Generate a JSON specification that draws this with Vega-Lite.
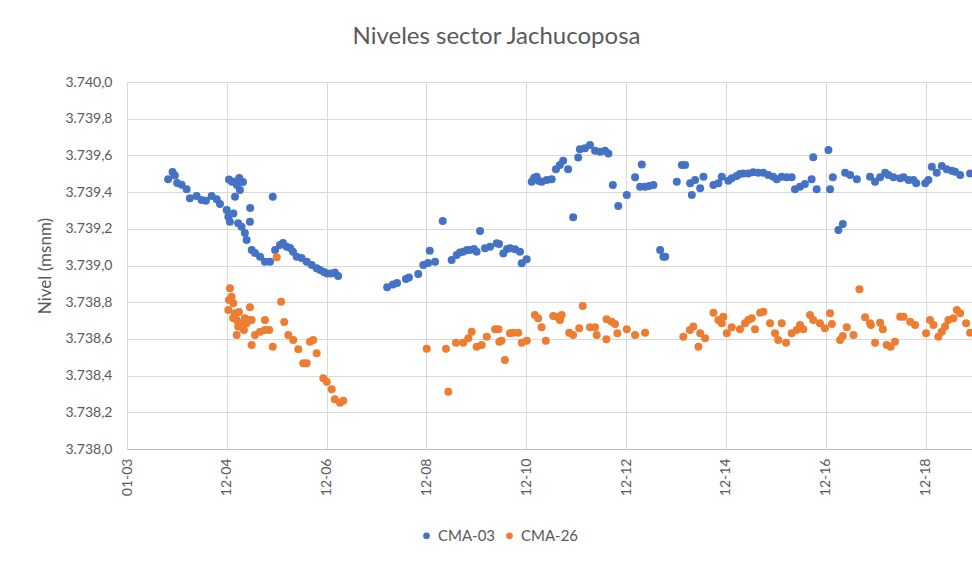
{
  "$schema": "https://vega.github.io/schema/vega-lite/v6.json",
  "width": 845,
  "height": 367,
  "autosize": {"type": "none"},
  "padding": {"left": 127, "top": 82, "right": 0, "bottom": 113},
  "background": "white",
  "title": {
    "text": "Niveles sector Jachucoposa",
    "fontSize": 24,
    "font": "Lato",
    "fontWeight": "normal",
    "color": "#595959",
    "anchor": "middle",
    "frame": "group",
    "dx": -53,
    "offset": 26
  },
  "config": {
    "view": {"stroke": null},
    "font": "Lato"
  },
  "data": {
    "values": [
      {"fecha": "2003-10-29", "nivel": 3739.47, "pozo": "CMA-03"},
      {"fecha": "2003-11-30", "nivel": 3739.51, "pozo": "CMA-03"},
      {"fecha": "2003-12-17", "nivel": 3739.49, "pozo": "CMA-03"},
      {"fecha": "2004-01-03", "nivel": 3739.45, "pozo": "CMA-03"},
      {"fecha": "2004-02-04", "nivel": 3739.44, "pozo": "CMA-03"},
      {"fecha": "2004-03-12", "nivel": 3739.415, "pozo": "CMA-03"},
      {"fecha": "2004-04-05", "nivel": 3739.366, "pozo": "CMA-03"},
      {"fecha": "2004-05-24", "nivel": 3739.379, "pozo": "CMA-03"},
      {"fecha": "2004-06-30", "nivel": 3739.357, "pozo": "CMA-03"},
      {"fecha": "2004-07-31", "nivel": 3739.353, "pozo": "CMA-03"},
      {"fecha": "2004-09-11", "nivel": 3739.379, "pozo": "CMA-03"},
      {"fecha": "2004-10-18", "nivel": 3739.361, "pozo": "CMA-03"},
      {"fecha": "2004-11-11", "nivel": 3739.335, "pozo": "CMA-03"},
      {"fecha": "2004-12-30", "nivel": 3739.302, "pozo": "CMA-03"},
      {"fecha": "2005-01-11", "nivel": 3739.266, "pozo": "CMA-03"},
      {"fecha": "2005-01-23", "nivel": 3739.239, "pozo": "CMA-03"},
      {"fecha": "2005-02-17", "nivel": 3739.284, "pozo": "CMA-03"},
      {"fecha": "2005-02-07", "nivel": 3739.457, "pozo": "CMA-03"},
      {"fecha": "2005-03-01", "nivel": 3739.457, "pozo": "CMA-03"},
      {"fecha": "2005-03-15", "nivel": 3739.439, "pozo": "CMA-03"},
      {"fecha": "2005-04-06", "nivel": 3739.411, "pozo": "CMA-03"},
      {"fecha": "2005-03-01", "nivel": 3739.375, "pozo": "CMA-03"},
      {"fecha": "2005-01-16", "nivel": 3739.468, "pozo": "CMA-03"},
      {"fecha": "2005-04-28", "nivel": 3739.455, "pozo": "CMA-03"},
      {"fecha": "2005-04-01", "nivel": 3739.477, "pozo": "CMA-03"},
      {"fecha": "2005-03-24", "nivel": 3739.23, "pozo": "CMA-03"},
      {"fecha": "2005-04-18", "nivel": 3739.211, "pozo": "CMA-03"},
      {"fecha": "2005-05-12", "nivel": 3739.177, "pozo": "CMA-03"},
      {"fecha": "2005-05-25", "nivel": 3739.139, "pozo": "CMA-03"},
      {"fecha": "2005-06-18", "nivel": 3739.239, "pozo": "CMA-03"},
      {"fecha": "2005-06-20", "nivel": 3739.313, "pozo": "CMA-03"},
      {"fecha": "2005-07-01", "nivel": 3739.084, "pozo": "CMA-03"},
      {"fecha": "2005-07-25", "nivel": 3739.068, "pozo": "CMA-03"},
      {"fecha": "2005-08-31", "nivel": 3739.048, "pozo": "CMA-03"},
      {"fecha": "2005-10-06", "nivel": 3739.021, "pozo": "CMA-03"},
      {"fecha": "2005-11-12", "nivel": 3739.021, "pozo": "CMA-03"},
      {"fecha": "2005-12-02", "nivel": 3739.375, "pozo": "CMA-03"},
      {"fecha": "2005-12-19", "nivel": 3739.084, "pozo": "CMA-03"},
      {"fecha": "2006-01-24", "nivel": 3739.112, "pozo": "CMA-03"},
      {"fecha": "2006-02-15", "nivel": 3739.123, "pozo": "CMA-03"},
      {"fecha": "2006-03-14", "nivel": 3739.102, "pozo": "CMA-03"},
      {"fecha": "2006-04-08", "nivel": 3739.095, "pozo": "CMA-03"},
      {"fecha": "2006-04-29", "nivel": 3739.075, "pozo": "CMA-03"},
      {"fecha": "2006-05-26", "nivel": 3739.048, "pozo": "CMA-03"},
      {"fecha": "2006-07-01", "nivel": 3739.041, "pozo": "CMA-03"},
      {"fecha": "2006-08-07", "nivel": 3739.021, "pozo": "CMA-03"},
      {"fecha": "2006-09-13", "nivel": 3739.003, "pozo": "CMA-03"},
      {"fecha": "2006-10-19", "nivel": 3738.985, "pozo": "CMA-03"},
      {"fecha": "2006-11-13", "nivel": 3738.975, "pozo": "CMA-03"},
      {"fecha": "2006-12-12", "nivel": 3738.965, "pozo": "CMA-03"},
      {"fecha": "2007-01-03", "nivel": 3738.956, "pozo": "CMA-03"},
      {"fecha": "2007-02-01", "nivel": 3738.956, "pozo": "CMA-03"},
      {"fecha": "2007-03-01", "nivel": 3738.962, "pozo": "CMA-03"},
      {"fecha": "2007-03-25", "nivel": 3738.943, "pozo": "CMA-03"},
      {"fecha": "2008-03-18", "nivel": 3738.881, "pozo": "CMA-03"},
      {"fecha": "2008-04-29", "nivel": 3738.896, "pozo": "CMA-03"},
      {"fecha": "2008-05-29", "nivel": 3738.905, "pozo": "CMA-03"},
      {"fecha": "2008-08-02", "nivel": 3738.926, "pozo": "CMA-03"},
      {"fecha": "2008-08-24", "nivel": 3738.935, "pozo": "CMA-03"},
      {"fecha": "2008-10-31", "nivel": 3738.954, "pozo": "CMA-03"},
      {"fecha": "2008-12-07", "nivel": 3739.003, "pozo": "CMA-03"},
      {"fecha": "2009-01-11", "nivel": 3739.014, "pozo": "CMA-03"},
      {"fecha": "2009-01-23", "nivel": 3739.081, "pozo": "CMA-03"},
      {"fecha": "2009-03-03", "nivel": 3739.021, "pozo": "CMA-03"},
      {"fecha": "2009-04-28", "nivel": 3739.243, "pozo": "CMA-03"},
      {"fecha": "2009-07-02", "nivel": 3739.03, "pozo": "CMA-03"},
      {"fecha": "2009-08-08", "nivel": 3739.057, "pozo": "CMA-03"},
      {"fecha": "2009-09-01", "nivel": 3739.071, "pozo": "CMA-03"},
      {"fecha": "2009-09-25", "nivel": 3739.075, "pozo": "CMA-03"},
      {"fecha": "2009-10-23", "nivel": 3739.084, "pozo": "CMA-03"},
      {"fecha": "2009-11-13", "nivel": 3739.084, "pozo": "CMA-03"},
      {"fecha": "2009-12-12", "nivel": 3739.09, "pozo": "CMA-03"},
      {"fecha": "2010-01-01", "nivel": 3739.075, "pozo": "CMA-03"},
      {"fecha": "2010-01-26", "nivel": 3739.188, "pozo": "CMA-03"},
      {"fecha": "2010-03-03", "nivel": 3739.094, "pozo": "CMA-03"},
      {"fecha": "2010-04-09", "nivel": 3739.102, "pozo": "CMA-03"},
      {"fecha": "2010-05-28", "nivel": 3739.121, "pozo": "CMA-03"},
      {"fecha": "2010-06-14", "nivel": 3739.117, "pozo": "CMA-03"},
      {"fecha": "2010-07-15", "nivel": 3739.066, "pozo": "CMA-03"},
      {"fecha": "2010-08-11", "nivel": 3739.09, "pozo": "CMA-03"},
      {"fecha": "2010-09-02", "nivel": 3739.094, "pozo": "CMA-03"},
      {"fecha": "2010-10-09", "nivel": 3739.088, "pozo": "CMA-03"},
      {"fecha": "2010-11-14", "nivel": 3739.075, "pozo": "CMA-03"},
      {"fecha": "2010-11-27", "nivel": 3739.012, "pozo": "CMA-03"},
      {"fecha": "2011-01-02", "nivel": 3739.034, "pozo": "CMA-03"},
      {"fecha": "2011-02-08", "nivel": 3739.457, "pozo": "CMA-03"},
      {"fecha": "2011-02-25", "nivel": 3739.477, "pozo": "CMA-03"},
      {"fecha": "2011-03-16", "nivel": 3739.484, "pozo": "CMA-03"},
      {"fecha": "2011-04-02", "nivel": 3739.46, "pozo": "CMA-03"},
      {"fecha": "2011-04-22", "nivel": 3739.457, "pozo": "CMA-03"},
      {"fecha": "2011-05-28", "nivel": 3739.466, "pozo": "CMA-03"},
      {"fecha": "2011-07-04", "nivel": 3739.47, "pozo": "CMA-03"},
      {"fecha": "2011-08-04", "nivel": 3739.524, "pozo": "CMA-03"},
      {"fecha": "2011-09-02", "nivel": 3739.548, "pozo": "CMA-03"},
      {"fecha": "2011-09-26", "nivel": 3739.571, "pozo": "CMA-03"},
      {"fecha": "2011-11-01", "nivel": 3739.524, "pozo": "CMA-03"},
      {"fecha": "2011-12-08", "nivel": 3739.263, "pozo": "CMA-03"},
      {"fecha": "2012-01-14", "nivel": 3739.589, "pozo": "CMA-03"},
      {"fecha": "2012-01-26", "nivel": 3739.633, "pozo": "CMA-03"},
      {"fecha": "2012-03-03", "nivel": 3739.639, "pozo": "CMA-03"},
      {"fecha": "2012-04-09", "nivel": 3739.657, "pozo": "CMA-03"},
      {"fecha": "2012-05-16", "nivel": 3739.626, "pozo": "CMA-03"},
      {"fecha": "2012-06-22", "nivel": 3739.62, "pozo": "CMA-03"},
      {"fecha": "2012-07-28", "nivel": 3739.626, "pozo": "CMA-03"},
      {"fecha": "2012-08-22", "nivel": 3739.611, "pozo": "CMA-03"},
      {"fecha": "2012-09-23", "nivel": 3739.439, "pozo": "CMA-03"},
      {"fecha": "2012-11-02", "nivel": 3739.324, "pozo": "CMA-03"},
      {"fecha": "2013-01-03", "nivel": 3739.384, "pozo": "CMA-03"},
      {"fecha": "2013-03-05", "nivel": 3739.481, "pozo": "CMA-03"},
      {"fecha": "2013-04-23", "nivel": 3739.551, "pozo": "CMA-03"},
      {"fecha": "2013-04-11", "nivel": 3739.429, "pozo": "CMA-03"},
      {"fecha": "2013-05-17", "nivel": 3739.429, "pozo": "CMA-03"},
      {"fecha": "2013-06-15", "nivel": 3739.433, "pozo": "CMA-03"},
      {"fecha": "2013-07-17", "nivel": 3739.439, "pozo": "CMA-03"},
      {"fecha": "2013-09-04", "nivel": 3739.084, "pozo": "CMA-03"},
      {"fecha": "2013-09-28", "nivel": 3739.048, "pozo": "CMA-03"},
      {"fecha": "2013-10-11", "nivel": 3739.048, "pozo": "CMA-03"},
      {"fecha": "2014-01-04", "nivel": 3739.457, "pozo": "CMA-03"},
      {"fecha": "2014-02-10", "nivel": 3739.548, "pozo": "CMA-03"},
      {"fecha": "2014-03-06", "nivel": 3739.548, "pozo": "CMA-03"},
      {"fecha": "2014-04-12", "nivel": 3739.448, "pozo": "CMA-03"},
      {"fecha": "2014-04-24", "nivel": 3739.384, "pozo": "CMA-03"},
      {"fecha": "2014-05-18", "nivel": 3739.466, "pozo": "CMA-03"},
      {"fecha": "2014-06-24", "nivel": 3739.421, "pozo": "CMA-03"},
      {"fecha": "2014-07-18", "nivel": 3739.484, "pozo": "CMA-03"},
      {"fecha": "2014-09-29", "nivel": 3739.439, "pozo": "CMA-03"},
      {"fecha": "2014-11-04", "nivel": 3739.448, "pozo": "CMA-03"},
      {"fecha": "2014-11-29", "nivel": 3739.484, "pozo": "CMA-03"},
      {"fecha": "2015-01-16", "nivel": 3739.462, "pozo": "CMA-03"},
      {"fecha": "2015-02-10", "nivel": 3739.475, "pozo": "CMA-03"},
      {"fecha": "2015-03-18", "nivel": 3739.488, "pozo": "CMA-03"},
      {"fecha": "2015-04-11", "nivel": 3739.499, "pozo": "CMA-03"},
      {"fecha": "2015-05-05", "nivel": 3739.502, "pozo": "CMA-03"},
      {"fecha": "2015-06-11", "nivel": 3739.502, "pozo": "CMA-03"},
      {"fecha": "2015-07-17", "nivel": 3739.508, "pozo": "CMA-03"},
      {"fecha": "2015-08-23", "nivel": 3739.506, "pozo": "CMA-03"},
      {"fecha": "2015-09-29", "nivel": 3739.506, "pozo": "CMA-03"},
      {"fecha": "2015-11-04", "nivel": 3739.493, "pozo": "CMA-03"},
      {"fecha": "2015-12-10", "nivel": 3739.484, "pozo": "CMA-03"},
      {"fecha": "2016-01-05", "nivel": 3739.47, "pozo": "CMA-03"},
      {"fecha": "2016-02-10", "nivel": 3739.484, "pozo": "CMA-03"},
      {"fecha": "2016-03-17", "nivel": 3739.481, "pozo": "CMA-03"},
      {"fecha": "2016-04-23", "nivel": 3739.481, "pozo": "CMA-03"},
      {"fecha": "2016-05-17", "nivel": 3739.415, "pozo": "CMA-03"},
      {"fecha": "2016-06-23", "nivel": 3739.429, "pozo": "CMA-03"},
      {"fecha": "2016-07-29", "nivel": 3739.444, "pozo": "CMA-03"},
      {"fecha": "2016-09-16", "nivel": 3739.47, "pozo": "CMA-03"},
      {"fecha": "2016-09-28", "nivel": 3739.59, "pozo": "CMA-03"},
      {"fecha": "2016-10-23", "nivel": 3739.415, "pozo": "CMA-03"},
      {"fecha": "2017-01-17", "nivel": 3739.629, "pozo": "CMA-03"},
      {"fecha": "2017-01-29", "nivel": 3739.415, "pozo": "CMA-03"},
      {"fecha": "2017-02-18", "nivel": 3739.481, "pozo": "CMA-03"},
      {"fecha": "2017-03-31", "nivel": 3739.193, "pozo": "CMA-03"},
      {"fecha": "2017-05-02", "nivel": 3739.226, "pozo": "CMA-03"},
      {"fecha": "2017-05-19", "nivel": 3739.506, "pozo": "CMA-03"},
      {"fecha": "2017-06-25", "nivel": 3739.493, "pozo": "CMA-03"},
      {"fecha": "2017-08-13", "nivel": 3739.47, "pozo": "CMA-03"},
      {"fecha": "2017-11-17", "nivel": 3739.484, "pozo": "CMA-03"},
      {"fecha": "2017-12-24", "nivel": 3739.457, "pozo": "CMA-03"},
      {"fecha": "2018-01-30", "nivel": 3739.481, "pozo": "CMA-03"},
      {"fecha": "2018-03-08", "nivel": 3739.506, "pozo": "CMA-03"},
      {"fecha": "2018-04-01", "nivel": 3739.493, "pozo": "CMA-03"},
      {"fecha": "2018-05-08", "nivel": 3739.481, "pozo": "CMA-03"},
      {"fecha": "2018-06-26", "nivel": 3739.475, "pozo": "CMA-03"},
      {"fecha": "2018-07-20", "nivel": 3739.481, "pozo": "CMA-03"},
      {"fecha": "2018-08-26", "nivel": 3739.466, "pozo": "CMA-03"},
      {"fecha": "2018-10-01", "nivel": 3739.466, "pozo": "CMA-03"},
      {"fecha": "2018-10-21", "nivel": 3739.448, "pozo": "CMA-03"},
      {"fecha": "2018-12-26", "nivel": 3739.448, "pozo": "CMA-03"},
      {"fecha": "2019-01-18", "nivel": 3739.466, "pozo": "CMA-03"},
      {"fecha": "2019-02-12", "nivel": 3739.538, "pozo": "CMA-03"},
      {"fecha": "2019-03-20", "nivel": 3739.506, "pozo": "CMA-03"},
      {"fecha": "2019-04-26", "nivel": 3739.542, "pozo": "CMA-03"},
      {"fecha": "2019-06-01", "nivel": 3739.524, "pozo": "CMA-03"},
      {"fecha": "2019-07-08", "nivel": 3739.517, "pozo": "CMA-03"},
      {"fecha": "2019-08-01", "nivel": 3739.511, "pozo": "CMA-03"},
      {"fecha": "2019-09-07", "nivel": 3739.493, "pozo": "CMA-03"},
      {"fecha": "2019-11-19", "nivel": 3739.502, "pozo": "CMA-03"},

      {"fecha": "2005-01-23", "nivel": 3738.876, "pozo": "CMA-26"},
      {"fecha": "2005-02-04", "nivel": 3738.83, "pozo": "CMA-26"},
      {"fecha": "2005-02-16", "nivel": 3738.794, "pozo": "CMA-26"},
      {"fecha": "2005-01-11", "nivel": 3738.757, "pozo": "CMA-26"},
      {"fecha": "2005-03-01", "nivel": 3738.74, "pozo": "CMA-26"},
      {"fecha": "2005-03-13", "nivel": 3738.703, "pozo": "CMA-26"},
      {"fecha": "2005-03-24", "nivel": 3738.667, "pozo": "CMA-26"},
      {"fecha": "2005-03-13", "nivel": 3738.621, "pozo": "CMA-26"},
      {"fecha": "2005-04-18", "nivel": 3738.685, "pozo": "CMA-26"},
      {"fecha": "2005-05-12", "nivel": 3738.712, "pozo": "CMA-26"},
      {"fecha": "2005-05-25", "nivel": 3738.685, "pozo": "CMA-26"},
      {"fecha": "2005-07-01", "nivel": 3738.703, "pozo": "CMA-26"},
      {"fecha": "2005-01-16", "nivel": 3738.812, "pozo": "CMA-26"},
      {"fecha": "2005-02-15", "nivel": 3738.714, "pozo": "CMA-26"},
      {"fecha": "2005-03-30", "nivel": 3738.747, "pozo": "CMA-26"},
      {"fecha": "2005-05-05", "nivel": 3738.649, "pozo": "CMA-26"},
      {"fecha": "2005-06-01", "nivel": 3738.703, "pozo": "CMA-26"},
      {"fecha": "2005-06-18", "nivel": 3738.772, "pozo": "CMA-26"},
      {"fecha": "2005-07-01", "nivel": 3738.567, "pozo": "CMA-26"},
      {"fecha": "2005-07-25", "nivel": 3738.621, "pozo": "CMA-26"},
      {"fecha": "2005-08-31", "nivel": 3738.639, "pozo": "CMA-26"},
      {"fecha": "2005-10-06", "nivel": 3738.649, "pozo": "CMA-26"},
      {"fecha": "2005-11-06", "nivel": 3738.649, "pozo": "CMA-26"},
      {"fecha": "2005-10-06", "nivel": 3738.703, "pozo": "CMA-26"},
      {"fecha": "2005-12-02", "nivel": 3738.557, "pozo": "CMA-26"},
      {"fecha": "2005-12-31", "nivel": 3739.045, "pozo": "CMA-26"},
      {"fecha": "2006-02-01", "nivel": 3738.803, "pozo": "CMA-26"},
      {"fecha": "2006-02-24", "nivel": 3738.692, "pozo": "CMA-26"},
      {"fecha": "2006-03-26", "nivel": 3738.621, "pozo": "CMA-26"},
      {"fecha": "2006-05-01", "nivel": 3738.594, "pozo": "CMA-26"},
      {"fecha": "2006-06-07", "nivel": 3738.543, "pozo": "CMA-26"},
      {"fecha": "2006-07-13", "nivel": 3738.467, "pozo": "CMA-26"},
      {"fecha": "2006-08-07", "nivel": 3738.467, "pozo": "CMA-26"},
      {"fecha": "2006-08-31", "nivel": 3738.585, "pozo": "CMA-26"},
      {"fecha": "2006-09-24", "nivel": 3738.594, "pozo": "CMA-26"},
      {"fecha": "2006-10-19", "nivel": 3738.522, "pozo": "CMA-26"},
      {"fecha": "2006-12-07", "nivel": 3738.385, "pozo": "CMA-26"},
      {"fecha": "2007-01-01", "nivel": 3738.367, "pozo": "CMA-26"},
      {"fecha": "2007-02-06", "nivel": 3738.325, "pozo": "CMA-26"},
      {"fecha": "2007-03-01", "nivel": 3738.271, "pozo": "CMA-26"},
      {"fecha": "2007-04-08", "nivel": 3738.252, "pozo": "CMA-26"},
      {"fecha": "2007-05-02", "nivel": 3738.263, "pozo": "CMA-26"},
      {"fecha": "2009-01-01", "nivel": 3738.547, "pozo": "CMA-26"},
      {"fecha": "2009-05-22", "nivel": 3738.547, "pozo": "CMA-26"},
      {"fecha": "2009-06-08", "nivel": 3738.312, "pozo": "CMA-26"},
      {"fecha": "2009-08-03", "nivel": 3738.579, "pozo": "CMA-26"},
      {"fecha": "2009-09-25", "nivel": 3738.579, "pozo": "CMA-26"},
      {"fecha": "2009-11-01", "nivel": 3738.603, "pozo": "CMA-26"},
      {"fecha": "2009-11-26", "nivel": 3738.639, "pozo": "CMA-26"},
      {"fecha": "2010-01-01", "nivel": 3738.557, "pozo": "CMA-26"},
      {"fecha": "2010-02-07", "nivel": 3738.567, "pozo": "CMA-26"},
      {"fecha": "2010-03-16", "nivel": 3738.612, "pozo": "CMA-26"},
      {"fecha": "2010-05-16", "nivel": 3738.652, "pozo": "CMA-26"},
      {"fecha": "2010-06-16", "nivel": 3738.585, "pozo": "CMA-26"},
      {"fecha": "2010-06-10", "nivel": 3738.652, "pozo": "CMA-26"},
      {"fecha": "2010-07-02", "nivel": 3738.59, "pozo": "CMA-26"},
      {"fecha": "2010-07-27", "nivel": 3738.485, "pozo": "CMA-26"},
      {"fecha": "2010-09-02", "nivel": 3738.631, "pozo": "CMA-26"},
      {"fecha": "2010-09-26", "nivel": 3738.634, "pozo": "CMA-26"},
      {"fecha": "2010-11-01", "nivel": 3738.634, "pozo": "CMA-26"},
      {"fecha": "2010-11-27", "nivel": 3738.579, "pozo": "CMA-26"},
      {"fecha": "2011-01-02", "nivel": 3738.59, "pozo": "CMA-26"},
      {"fecha": "2011-03-03", "nivel": 3738.73, "pozo": "CMA-26"},
      {"fecha": "2011-03-27", "nivel": 3738.712, "pozo": "CMA-26"},
      {"fecha": "2011-04-21", "nivel": 3738.663, "pozo": "CMA-26"},
      {"fecha": "2011-05-22", "nivel": 3738.59, "pozo": "CMA-26"},
      {"fecha": "2011-07-15", "nivel": 3738.725, "pozo": "CMA-26"},
      {"fecha": "2011-08-13", "nivel": 3738.721, "pozo": "CMA-26"},
      {"fecha": "2011-09-02", "nivel": 3738.703, "pozo": "CMA-26"},
      {"fecha": "2011-09-15", "nivel": 3738.73, "pozo": "CMA-26"},
      {"fecha": "2011-11-09", "nivel": 3738.634, "pozo": "CMA-26"},
      {"fecha": "2011-12-08", "nivel": 3738.621, "pozo": "CMA-26"},
      {"fecha": "2012-01-21", "nivel": 3738.658, "pozo": "CMA-26"},
      {"fecha": "2012-02-16", "nivel": 3738.779, "pozo": "CMA-26"},
      {"fecha": "2012-04-09", "nivel": 3738.663, "pozo": "CMA-26"},
      {"fecha": "2012-05-16", "nivel": 3738.663, "pozo": "CMA-26"},
      {"fecha": "2012-05-28", "nivel": 3738.621, "pozo": "CMA-26"},
      {"fecha": "2012-08-09", "nivel": 3738.707, "pozo": "CMA-26"},
      {"fecha": "2012-09-15", "nivel": 3738.694, "pozo": "CMA-26"},
      {"fecha": "2012-10-09", "nivel": 3738.681, "pozo": "CMA-26"},
      {"fecha": "2012-08-07", "nivel": 3738.598, "pozo": "CMA-26"},
      {"fecha": "2012-10-26", "nivel": 3738.631, "pozo": "CMA-26"},
      {"fecha": "2013-01-03", "nivel": 3738.652, "pozo": "CMA-26"},
      {"fecha": "2013-03-05", "nivel": 3738.621, "pozo": "CMA-26"},
      {"fecha": "2013-05-17", "nivel": 3738.634, "pozo": "CMA-26"},
      {"fecha": "2014-02-21", "nivel": 3738.612, "pozo": "CMA-26"},
      {"fecha": "2014-04-10", "nivel": 3738.649, "pozo": "CMA-26"},
      {"fecha": "2014-05-05", "nivel": 3738.667, "pozo": "CMA-26"},
      {"fecha": "2014-06-11", "nivel": 3738.557, "pozo": "CMA-26"},
      {"fecha": "2014-06-24", "nivel": 3738.631, "pozo": "CMA-26"},
      {"fecha": "2014-07-30", "nivel": 3738.603, "pozo": "CMA-26"},
      {"fecha": "2014-09-29", "nivel": 3738.743, "pozo": "CMA-26"},
      {"fecha": "2014-11-04", "nivel": 3738.703, "pozo": "CMA-26"},
      {"fecha": "2014-12-10", "nivel": 3738.721, "pozo": "CMA-26"},
      {"fecha": "2014-11-29", "nivel": 3738.685, "pozo": "CMA-26"},
      {"fecha": "2015-01-05", "nivel": 3738.631, "pozo": "CMA-26"},
      {"fecha": "2015-02-10", "nivel": 3738.663, "pozo": "CMA-26"},
      {"fecha": "2015-04-11", "nivel": 3738.652, "pozo": "CMA-26"},
      {"fecha": "2015-05-18", "nivel": 3738.685, "pozo": "CMA-26"},
      {"fecha": "2015-06-11", "nivel": 3738.703, "pozo": "CMA-26"},
      {"fecha": "2015-07-06", "nivel": 3738.712, "pozo": "CMA-26"},
      {"fecha": "2015-07-30", "nivel": 3738.652, "pozo": "CMA-26"},
      {"fecha": "2015-09-05", "nivel": 3738.743, "pozo": "CMA-26"},
      {"fecha": "2015-09-29", "nivel": 3738.748, "pozo": "CMA-26"},
      {"fecha": "2015-11-17", "nivel": 3738.685, "pozo": "CMA-26"},
      {"fecha": "2015-12-23", "nivel": 3738.631, "pozo": "CMA-26"},
      {"fecha": "2016-01-16", "nivel": 3738.594, "pozo": "CMA-26"},
      {"fecha": "2016-02-10", "nivel": 3738.685, "pozo": "CMA-26"},
      {"fecha": "2016-03-13", "nivel": 3738.579, "pozo": "CMA-26"},
      {"fecha": "2016-04-23", "nivel": 3738.631, "pozo": "CMA-26"},
      {"fecha": "2016-05-30", "nivel": 3738.649, "pozo": "CMA-26"},
      {"fecha": "2016-06-23", "nivel": 3738.676, "pozo": "CMA-26"},
      {"fecha": "2016-07-17", "nivel": 3738.652, "pozo": "CMA-26"},
      {"fecha": "2016-09-04", "nivel": 3738.73, "pozo": "CMA-26"},
      {"fecha": "2016-09-28", "nivel": 3738.703, "pozo": "CMA-26"},
      {"fecha": "2016-11-16", "nivel": 3738.685, "pozo": "CMA-26"},
      {"fecha": "2016-12-22", "nivel": 3738.658, "pozo": "CMA-26"},
      {"fecha": "2017-01-29", "nivel": 3738.74, "pozo": "CMA-26"},
      {"fecha": "2017-02-11", "nivel": 3738.681, "pozo": "CMA-26"},
      {"fecha": "2017-04-12", "nivel": 3738.594, "pozo": "CMA-26"},
      {"fecha": "2017-05-02", "nivel": 3738.616, "pozo": "CMA-26"},
      {"fecha": "2017-05-31", "nivel": 3738.663, "pozo": "CMA-26"},
      {"fecha": "2017-07-19", "nivel": 3738.621, "pozo": "CMA-26"},
      {"fecha": "2017-09-01", "nivel": 3738.87, "pozo": "CMA-26"},
      {"fecha": "2017-10-12", "nivel": 3738.718, "pozo": "CMA-26"},
      {"fecha": "2017-11-17", "nivel": 3738.685, "pozo": "CMA-26"},
      {"fecha": "2017-11-24", "nivel": 3738.676, "pozo": "CMA-26"},
      {"fecha": "2017-12-24", "nivel": 3738.579, "pozo": "CMA-26"},
      {"fecha": "2018-01-30", "nivel": 3738.688, "pozo": "CMA-26"},
      {"fecha": "2018-02-19", "nivel": 3738.652, "pozo": "CMA-26"},
      {"fecha": "2018-03-19", "nivel": 3738.567, "pozo": "CMA-26"},
      {"fecha": "2018-04-17", "nivel": 3738.557, "pozo": "CMA-26"},
      {"fecha": "2018-05-19", "nivel": 3738.585, "pozo": "CMA-26"},
      {"fecha": "2018-06-26", "nivel": 3738.721, "pozo": "CMA-26"},
      {"fecha": "2018-07-20", "nivel": 3738.721, "pozo": "CMA-26"},
      {"fecha": "2018-09-07", "nivel": 3738.694, "pozo": "CMA-26"},
      {"fecha": "2018-10-13", "nivel": 3738.676, "pozo": "CMA-26"},
      {"fecha": "2019-01-01", "nivel": 3738.631, "pozo": "CMA-26"},
      {"fecha": "2019-01-30", "nivel": 3738.703, "pozo": "CMA-26"},
      {"fecha": "2019-02-24", "nivel": 3738.676, "pozo": "CMA-26"},
      {"fecha": "2019-04-01", "nivel": 3738.612, "pozo": "CMA-26"},
      {"fecha": "2019-04-26", "nivel": 3738.639, "pozo": "CMA-26"},
      {"fecha": "2019-05-20", "nivel": 3738.667, "pozo": "CMA-26"},
      {"fecha": "2019-06-13", "nivel": 3738.703, "pozo": "CMA-26"},
      {"fecha": "2019-07-20", "nivel": 3738.712, "pozo": "CMA-26"},
      {"fecha": "2019-08-14", "nivel": 3738.757, "pozo": "CMA-26"},
      {"fecha": "2019-09-07", "nivel": 3738.74, "pozo": "CMA-26"},
      {"fecha": "2019-10-21", "nivel": 3738.685, "pozo": "CMA-26"},
      {"fecha": "2019-11-19", "nivel": 3738.634, "pozo": "CMA-26"}
    ]
  },
  "mark": {"type": "point", "filled": true, "opacity": 1, "size": 64, "clip": true},
  "encoding": {
    "x": {
      "field": "fecha",
      "type": "temporal",
      "scale": {
        "domain": [{"year": 2003, "month": 1, "date": 1}, {"year": 2019, "month": 12, "date": 3}],
        "nice": false
      },
      "axis": {
        "title": null,
        "values": [
          {"year": 2003, "month": 1, "date": 1},
          {"year": 2004, "month": 12, "date": 31},
          {"year": 2006, "month": 12, "date": 31},
          {"year": 2008, "month": 12, "date": 30},
          {"year": 2010, "month": 12, "date": 30},
          {"year": 2012, "month": 12, "date": 29},
          {"year": 2014, "month": 12, "date": 29},
          {"year": 2016, "month": 12, "date": 28},
          {"year": 2018, "month": 12, "date": 28}
        ],
        "format": "%m-%y",
        "labelAngle": 270,
        "labelFontSize": 14,
        "labelFont": "Lato",
        "labelColor": "#595959",
        "labelPadding": 9,
        "ticks": false,
        "domainColor": "#bfbfbf",
        "domainWidth": 1,
        "grid": true,
        "gridColor": "#d9d9d9",
        "gridWidth": 1
      }
    },
    "y": {
      "field": "nivel",
      "type": "quantitative",
      "scale": {"domain": [3738, 3740], "nice": false, "zero": false},
      "axis": {
        "title": "Nivel (msnm)",
        "titleFont": "Lato",
        "titleFontSize": 17,
        "titleFontWeight": "normal",
        "titleColor": "#595959",
        "titlePadding": 10,
        "values": [3738, 3738.2, 3738.4, 3738.6, 3738.8, 3739, 3739.2, 3739.4, 3739.6, 3739.8, 3740],
        "labelExpr": "replace(replace(replace(format(datum.value, ',.1f'), ',', '_'), '.', ','), '_', '.')",
        "labelFontSize": 14,
        "labelFont": "Lato",
        "labelColor": "#595959",
        "labelPadding": 15,
        "ticks": false,
        "domain": false,
        "grid": true,
        "gridColor": "#d9d9d9",
        "gridWidth": 1
      }
    },
    "color": {
      "field": "pozo",
      "type": "nominal",
      "scale": {"domain": ["CMA-03", "CMA-26"], "range": ["#4472C4", "#ED7D31"]},
      "legend": {
        "title": null,
        "orient": "none",
        "direction": "horizontal",
        "legendX": 292,
        "legendY": 446,
        "symbolType": "circle",
        "symbolSize": 45,
        "labelFont": "Lato",
        "labelFontSize": 15,
        "labelColor": "#595959",
        "labelOffset": 4,
        "columnPadding": 6
      }
    }
  }
}
